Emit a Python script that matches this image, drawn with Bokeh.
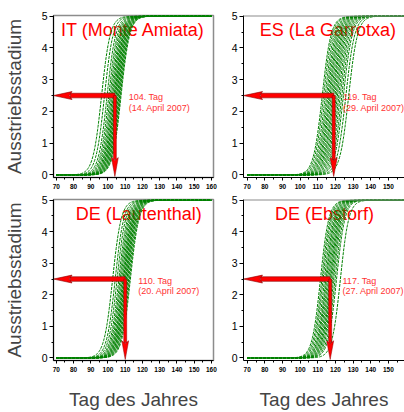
import numpy as np
from bokeh.plotting import figure
from bokeh.layouts import column, row
from bokeh.models import Range1d, SingleIntervalTicker, Span
from bokeh.core.properties import value
from bokeh.embed import file_html
from bokeh.resources import INLINE

# ---------------- data ----------------
sites = ["IT (Monte Amiata)", "ES (La Garrotxa)", "DE (Lautenthal)", "DE (Ebstorf)"]
onset_day = [104, 119, 110, 117]
onset_tag = ["104. Tag", "119. Tag", "110. Tag", "117. Tag"]
onset_date = ["(14. April 2007)", "(29. April 2007)", "(20. April 2007)", "(27. April 2007)"]

# day at which each fitted curve crosses stage 2.5
mid_it = [96.3, 98.0, 99.5, 100.5, 101.3, 102.0, 102.6, 103.1, 103.6, 104.0,
          104.4, 104.8, 105.2, 105.6, 106.0, 106.4, 106.8, 107.2, 107.6]
mid_es = [112.5, 113.3, 114.2, 115.0, 115.7, 116.4, 117.0, 117.7, 118.4, 119.0,
          119.7, 120.4, 121.1, 121.9, 122.7, 123.6, 124.5, 125.9, 127.5]
mid_del = [102.7, 104.2, 105.3, 106.3, 107.0, 107.6, 108.2, 108.7, 109.1, 109.5,
           109.9, 110.3, 110.7, 111.1, 111.5, 112.0, 112.5, 113.0]
mid_dee = [111.5, 112.3, 113.0, 113.8, 114.5, 115.0, 115.6, 116.2, 116.8, 117.3,
           117.8, 118.4, 119.0, 119.8, 120.6, 122.8]
mids = [mid_it, mid_es, mid_del, mid_dee]
rate = [0.40, 0.40, 0.40, 0.42]          # steepness of the curves per site

stage_max = 5.0
stage_ref = 2.5
day_first, day_last = 70, 160
y_title = "Ausstriebsstadium"
x_title = "Tag des Jahres"

# ---------------- styling ----------------
FONT = "Liberation Sans"
RED = "#ff0000"
DARKRED = "#8a0000"
GREEN = "#008000"
FRAME = "#8c8c8c"
title_x = [114.5, 115.7, 117.8, 113.8]
text_dx = [8.0, 5.2, 7.6, 7.0]
text_size = ["9px", "9px", "9px", "9px"]


def make_panel(i, left_col, bottom_row):
    w = 228 if left_col else 176
    h = 217 if bottom_row else 195
    mbl = 49 if left_col else 15
    mbr = 15 if left_col else 0
    mbt = 4 if bottom_row else 15
    mbb = 50 if bottom_row else 18
    xr = (68.4, 161.2) if left_col else (67.9, 159.1)
    yr = (-0.08, 5.02)
    fw = w - mbl - mbr
    fh = h - mbt - mbb
    pxx = fw / (xr[1] - xr[0])
    pxy = fh / (yr[1] - yr[0])

    p = figure(width=w, height=h, x_range=Range1d(*xr), y_range=Range1d(*yr),
               output_backend="svg", toolbar_location=None,
               min_border_left=mbl, min_border_right=mbr,
               min_border_top=mbt, min_border_bottom=mbb)
    p.background_fill_color = "white"
    p.border_fill_color = "white"
    if left_col:
        p.outline_line_color = FRAME
        p.outline_line_width = 1.5
    else:
        p.outline_line_color = None
        p.add_layout(Span(location=yr[1], dimension="width",
                          line_color=FRAME, line_width=2))
    p.grid.visible = False

    p.xaxis.ticker = SingleIntervalTicker(interval=10, num_minor_ticks=2)
    p.xaxis.major_label_text_font = FONT
    p.xaxis.major_label_text_font_size = "6.5px"
    p.xaxis.major_label_text_font_style = "bold"
    p.xaxis.major_label_standoff = 3
    p.xaxis.major_tick_out = 3
    p.xaxis.major_tick_in = 0
    p.xaxis.minor_tick_out = 2
    p.xaxis.minor_tick_in = 0

    p.yaxis.ticker = SingleIntervalTicker(interval=1, num_minor_ticks=2)
    p.yaxis.major_label_text_font = FONT
    p.yaxis.major_label_text_font_size = "10.5px"
    p.yaxis.major_label_standoff = 2
    p.yaxis.major_tick_out = 4
    p.yaxis.major_tick_in = 0
    p.yaxis.minor_tick_out = 2
    p.yaxis.minor_tick_in = 0
    for ax in (p.xaxis, p.yaxis):
        ax.axis_line_color = "black"
        ax.major_tick_line_color = "black"
        ax.minor_tick_line_color = "black"
        ax.major_label_text_color = "black"

    if left_col:
        p.yaxis.axis_label = y_title
        p.yaxis.axis_label_text_font = FONT
        p.yaxis.axis_label_text_font_size = "19px"
        p.yaxis.axis_label_text_font_style = "normal"
        p.yaxis.axis_label_standoff = 14
    if bottom_row:
        p.xaxis.axis_label = x_title
        p.xaxis.axis_label_text_font = FONT
        p.xaxis.axis_label_text_font_size = "19px"
        p.xaxis.axis_label_text_font_style = "normal"
        p.xaxis.axis_label_standoff = 14

    # site title (under the curves)
    p.text(x=[title_x[i]], y=[4.55], text=[sites[i]], text_font=value(FONT),
           text_font_size="18px", text_color=RED, text_align="center",
           text_baseline="middle")

    # fitted development curves
    days = np.linspace(day_first, day_last, 361)
    xs, ys = [], []
    for m in mids[i]:
        xs.append(days)
        ys.append(stage_max / (1.0 + np.exp(-rate[i] * (days - m))))
    p.multi_line(xs=xs, ys=ys, line_color=GREEN, line_width=1, line_dash="3 1")

    # horizontal arrow: from onset day to the stage axis
    t = onset_day[i]
    x_tip = xr[0]
    hl = 19 / pxx
    hh = 4 / pxy
    sh = 2.3 / pxy
    p.quad(left=[x_tip + 0.9 * hl], right=[t], bottom=[stage_ref - sh], top=[stage_ref + sh],
           fill_color=RED, line_color=DARKRED, line_width=0.6)
    p.patch(x=[x_tip, x_tip + hl, x_tip + 0.85 * hl, x_tip + hl],
            y=[stage_ref, stage_ref + hh, stage_ref, stage_ref - hh],
            fill_color=RED, line_color=DARKRED, line_width=0.6)

    # vertical arrow: from the curve crossing down to the day axis
    y_tip = -0.05
    vl = 19 / pxy
    vw = 3.5 / pxx
    sw = 1.5 / pxx
    p.quad(left=[t - sw], right=[t + sw], bottom=[y_tip + 0.9 * vl], top=[stage_ref],
           fill_color=RED, line_color=DARKRED, line_width=0.5)
    p.patch(x=[t, t + vw, t, t - vw],
            y=[y_tip, y_tip + vl, y_tip + 0.85 * vl, y_tip + vl],
            fill_color=RED, line_color=DARKRED, line_width=0.5)

    # onset annotation
    p.text(x=[t + text_dx[i], t + text_dx[i]], y=[2.45, 2.12],
           text=[onset_tag[i], onset_date[i]], text_font=value(FONT),
           text_font_size=text_size[i], text_color="#ff3333", text_align="left",
           text_baseline="middle")
    return p


p1 = make_panel(0, True, False)
p2 = make_panel(1, False, False)
p3 = make_panel(2, True, True)
p4 = make_panel(3, False, True)

layout = column(row(p1, p2), row(p3, p4))
open("out.html", "w").write(file_html(layout, INLINE))
